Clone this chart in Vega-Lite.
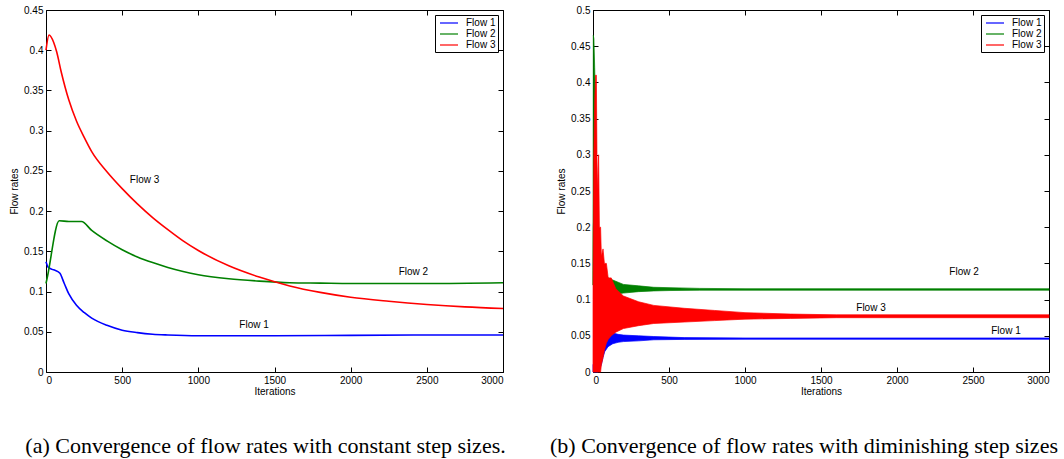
{
  "$schema": "https://vega.github.io/schema/vega-lite/v6.json",
  "padding": {"left": 9, "top": 4, "right": 5, "bottom": 5},
  "background": "white",
  "config": {
    "font": "Liberation Sans",
    "view": {"stroke": "black", "strokeWidth": 1},
    "axis": {
      "grid": false, "domain": false, "tickColor": "black", "tickSize": -5, "tickWidth": 1,
      "labelColor": "black", "labelFont": "Liberation Sans", "labelFontSize": 10, "labelPadding": 8,
      "titleColor": "black", "titleFont": "Liberation Sans", "titleFontSize": 10, "titleFontWeight": "normal"
    },
    "legend": {
      "orient": "top-right", "offset": 5, "strokeColor": "black", "fillColor": "white",
      "padding": 2, "rowPadding": 0, "labelFont": "Liberation Sans", "labelFontSize": 10, "labelOffset": 11,
      "labelColor": "black", "symbolType": "M-1.8,0H1.8", "symbolSize": 100, "symbolOffset": 6, "symbolStrokeWidth": 1.2, "title": null
    },
    "title": {"font": "Liberation Serif", "fontSize": 22, "fontWeight": "normal", "color": "black", "orient": "bottom", "anchor": "middle"}
  },
  "datasets": {
    "a": [
      {"f": "Flow 1", "x": 0, "y": 0.137}, {"f": "Flow 1", "x": 15, "y": 0.13}, {"f": "Flow 1", "x": 50, "y": 0.127}, {"f": "Flow 1", "x": 90, "y": 0.123},
      {"f": "Flow 1", "x": 120, "y": 0.11}, {"f": "Flow 1", "x": 150, "y": 0.097}, {"f": "Flow 1", "x": 200, "y": 0.083}, {"f": "Flow 1", "x": 250, "y": 0.074},
      {"f": "Flow 1", "x": 300, "y": 0.067}, {"f": "Flow 1", "x": 400, "y": 0.058}, {"f": "Flow 1", "x": 500, "y": 0.052}, {"f": "Flow 1", "x": 600, "y": 0.049},
      {"f": "Flow 1", "x": 700, "y": 0.047}, {"f": "Flow 1", "x": 800, "y": 0.046}, {"f": "Flow 1", "x": 1000, "y": 0.045}, {"f": "Flow 1", "x": 1500, "y": 0.045},
      {"f": "Flow 1", "x": 2000, "y": 0.0455}, {"f": "Flow 1", "x": 2500, "y": 0.046}, {"f": "Flow 1", "x": 3000, "y": 0.046},
      {"f": "Flow 2", "x": 0, "y": 0.11}, {"f": "Flow 2", "x": 10, "y": 0.119}, {"f": "Flow 2", "x": 87, "y": 0.188}, {"f": "Flow 2", "x": 150, "y": 0.187},
      {"f": "Flow 2", "x": 233, "y": 0.187}, {"f": "Flow 2", "x": 300, "y": 0.176}, {"f": "Flow 2", "x": 400, "y": 0.163}, {"f": "Flow 2", "x": 500, "y": 0.152},
      {"f": "Flow 2", "x": 600, "y": 0.143}, {"f": "Flow 2", "x": 700, "y": 0.136}, {"f": "Flow 2", "x": 800, "y": 0.13}, {"f": "Flow 2", "x": 900, "y": 0.125},
      {"f": "Flow 2", "x": 1000, "y": 0.121}, {"f": "Flow 2", "x": 1200, "y": 0.116}, {"f": "Flow 2", "x": 1400, "y": 0.113}, {"f": "Flow 2", "x": 1600, "y": 0.111},
      {"f": "Flow 2", "x": 1800, "y": 0.1105}, {"f": "Flow 2", "x": 2000, "y": 0.11}, {"f": "Flow 2", "x": 2500, "y": 0.11}, {"f": "Flow 2", "x": 3000, "y": 0.111},
      {"f": "Flow 3", "x": 0, "y": 0.4}, {"f": "Flow 3", "x": 20, "y": 0.419}, {"f": "Flow 3", "x": 50, "y": 0.41}, {"f": "Flow 3", "x": 70, "y": 0.398},
      {"f": "Flow 3", "x": 100, "y": 0.373}, {"f": "Flow 3", "x": 150, "y": 0.338}, {"f": "Flow 3", "x": 200, "y": 0.312}, {"f": "Flow 3", "x": 250, "y": 0.292},
      {"f": "Flow 3", "x": 300, "y": 0.274}, {"f": "Flow 3", "x": 400, "y": 0.249}, {"f": "Flow 3", "x": 500, "y": 0.228}, {"f": "Flow 3", "x": 600, "y": 0.209},
      {"f": "Flow 3", "x": 700, "y": 0.192}, {"f": "Flow 3", "x": 800, "y": 0.177}, {"f": "Flow 3", "x": 900, "y": 0.163}, {"f": "Flow 3", "x": 1000, "y": 0.151},
      {"f": "Flow 3", "x": 1200, "y": 0.132}, {"f": "Flow 3", "x": 1400, "y": 0.118}, {"f": "Flow 3", "x": 1600, "y": 0.107}, {"f": "Flow 3", "x": 1800, "y": 0.099},
      {"f": "Flow 3", "x": 2000, "y": 0.093}, {"f": "Flow 3", "x": 2250, "y": 0.088}, {"f": "Flow 3", "x": 2500, "y": 0.084}, {"f": "Flow 3", "x": 2750, "y": 0.081},
      {"f": "Flow 3", "x": 3000, "y": 0.079}
    ],
    "b": [
      {"f": "Flow 1", "x": 0, "lo": 0, "hi": 0.01}, {"f": "Flow 1", "x": 20, "lo": 0, "hi": 0.015}, {"f": "Flow 1", "x": 33, "lo": 0, "hi": 0.02},
      {"f": "Flow 1", "x": 45, "lo": 0.005, "hi": 0.035}, {"f": "Flow 1", "x": 55, "lo": 0.01, "hi": 0.045}, {"f": "Flow 1", "x": 66, "lo": 0.02, "hi": 0.05},
      {"f": "Flow 1", "x": 77, "lo": 0.028, "hi": 0.054}, {"f": "Flow 1", "x": 99, "lo": 0.035, "hi": 0.055}, {"f": "Flow 1", "x": 130, "lo": 0.039, "hi": 0.054},
      {"f": "Flow 1", "x": 165, "lo": 0.041, "hi": 0.052}, {"f": "Flow 1", "x": 200, "lo": 0.042, "hi": 0.051}, {"f": "Flow 1", "x": 300, "lo": 0.043, "hi": 0.05},
      {"f": "Flow 1", "x": 400, "lo": 0.0445, "hi": 0.049}, {"f": "Flow 1", "x": 600, "lo": 0.045, "hi": 0.0475}, {"f": "Flow 1", "x": 1000, "lo": 0.0452, "hi": 0.047},
      {"f": "Flow 1", "x": 3000, "lo": 0.0452, "hi": 0.047},
      {"f": "Flow 2", "x": 0, "lo": 0.12, "hi": 0.14}, {"f": "Flow 2", "x": 2, "lo": 0.2, "hi": 0.465}, {"f": "Flow 2", "x": 6, "lo": 0.22, "hi": 0.46},
      {"f": "Flow 2", "x": 11, "lo": 0.2, "hi": 0.42}, {"f": "Flow 2", "x": 16, "lo": 0.15, "hi": 0.38}, {"f": "Flow 2", "x": 22, "lo": 0.12, "hi": 0.3},
      {"f": "Flow 2", "x": 30, "lo": 0.1, "hi": 0.2}, {"f": "Flow 2", "x": 40, "lo": 0.095, "hi": 0.17}, {"f": "Flow 2", "x": 55, "lo": 0.1, "hi": 0.145},
      {"f": "Flow 2", "x": 77, "lo": 0.103, "hi": 0.135}, {"f": "Flow 2", "x": 100, "lo": 0.105, "hi": 0.13}, {"f": "Flow 2", "x": 130, "lo": 0.107, "hi": 0.127},
      {"f": "Flow 2", "x": 165, "lo": 0.108, "hi": 0.124}, {"f": "Flow 2", "x": 200, "lo": 0.109, "hi": 0.121}, {"f": "Flow 2", "x": 300, "lo": 0.111, "hi": 0.119},
      {"f": "Flow 2", "x": 400, "lo": 0.112, "hi": 0.117}, {"f": "Flow 2", "x": 500, "lo": 0.1125, "hi": 0.1165}, {"f": "Flow 2", "x": 700, "lo": 0.113, "hi": 0.1155},
      {"f": "Flow 2", "x": 1000, "lo": 0.113, "hi": 0.115}, {"f": "Flow 2", "x": 3000, "lo": 0.113, "hi": 0.115},
      {"f": "Flow 3", "x": 0, "lo": 0, "hi": 0.1}, {"f": "Flow 3", "x": 5, "lo": 0, "hi": 0.3}, {"f": "Flow 3", "x": 12, "lo": 0, "hi": 0.38},
      {"f": "Flow 3", "x": 17, "lo": 0, "hi": 0.41}, {"f": "Flow 3", "x": 22, "lo": 0, "hi": 0.41}, {"f": "Flow 3", "x": 26, "lo": 0, "hi": 0.3},
      {"f": "Flow 3", "x": 30, "lo": 0, "hi": 0.25}, {"f": "Flow 3", "x": 37, "lo": 0, "hi": 0.3}, {"f": "Flow 3", "x": 42, "lo": 0, "hi": 0.2},
      {"f": "Flow 3", "x": 50, "lo": 0, "hi": 0.2}, {"f": "Flow 3", "x": 55, "lo": 0.01, "hi": 0.16}, {"f": "Flow 3", "x": 66, "lo": 0.02, "hi": 0.17},
      {"f": "Flow 3", "x": 75, "lo": 0.03, "hi": 0.15}, {"f": "Flow 3", "x": 88, "lo": 0.04, "hi": 0.15}, {"f": "Flow 3", "x": 100, "lo": 0.045, "hi": 0.13},
      {"f": "Flow 3", "x": 120, "lo": 0.05, "hi": 0.13}, {"f": "Flow 3", "x": 150, "lo": 0.055, "hi": 0.115}, {"f": "Flow 3", "x": 200, "lo": 0.06, "hi": 0.105},
      {"f": "Flow 3", "x": 300, "lo": 0.064, "hi": 0.097}, {"f": "Flow 3", "x": 400, "lo": 0.067, "hi": 0.092}, {"f": "Flow 3", "x": 600, "lo": 0.069, "hi": 0.088},
      {"f": "Flow 3", "x": 800, "lo": 0.071, "hi": 0.085}, {"f": "Flow 3", "x": 1000, "lo": 0.073, "hi": 0.082}, {"f": "Flow 3", "x": 1300, "lo": 0.074, "hi": 0.08},
      {"f": "Flow 3", "x": 1600, "lo": 0.075, "hi": 0.079}, {"f": "Flow 3", "x": 3000, "lo": 0.075, "hi": 0.079}
    ],
    "la": [
      {"t": "Flow 3", "x": 647, "y": 0.239},
      {"t": "Flow 2", "x": 2412, "y": 0.124},
      {"t": "Flow 1", "x": 1366, "y": 0.058}
    ],
    "lb": [
      {"t": "Flow 2", "x": 2441, "y": 0.138},
      {"t": "Flow 3", "x": 1829, "y": 0.088},
      {"t": "Flow 1", "x": 2717, "y": 0.057}
    ]
  },
  "spacing": 42,
  "resolve": {
    "legend": {"color": "independent", "fill": "independent", "stroke": "independent"},
    "scale": {"x": "independent", "y": "independent", "color": "independent", "fill": "independent", "stroke": "independent"}
  },
  "hconcat": [
    {
      "width": 457, "height": 362,
      "title": {"text": "(a) Convergence of flow rates with constant step sizes.", "dx": -9, "offset": 40},
      "resolve": {"axis": {"x": "independent", "y": "independent"}},
      "layer": [
        {
          "data": {"name": "a"},
          "mark": {"type": "line", "strokeWidth": 1.6, "interpolate": "monotone"},
          "encoding": {
            "x": {"field": "x", "type": "quantitative", "scale": {"domain": [0, 3000], "nice": false}, "axis": {"title": "Iterations", "values": [0, 500, 1000, 1500, 2000, 2500, 3000], "format": "d", "titlePadding": 1}},
            "y": {"field": "y", "type": "quantitative", "scale": {"domain": [0, 0.45], "nice": false}, "axis": {"title": "Flow rates", "values": [0, 0.05, 0.1, 0.15, 0.2, 0.25, 0.3, 0.35, 0.4, 0.45], "format": "~g", "titlePadding": 4}},
            "color": {"field": "f", "type": "nominal", "scale": {"domain": ["Flow 1", "Flow 2", "Flow 3"], "range": ["#0000ff", "#008000", "#ff0000"]}}
          }
        },
        {
          "data": {"name": "la"},
          "mark": {"type": "text", "font": "Liberation Sans", "fontSize": 10, "color": "black"},
          "encoding": {
            "x": {"field": "x", "type": "quantitative", "axis": {"orient": "top", "labels": false, "title": null, "values": [0, 500, 1000, 1500, 2000, 2500, 3000]}},
            "y": {"field": "y", "type": "quantitative", "axis": {"orient": "right", "labels": false, "title": null, "values": [0, 0.05, 0.1, 0.15, 0.2, 0.25, 0.3, 0.35, 0.4, 0.45]}},
            "text": {"field": "t"}
          }
        }
      ]
    },
    {
      "width": 456, "height": 362,
      "title": {"text": "(b) Convergence of flow rates with diminishing step sizes", "dx": -17, "offset": 40},
      "resolve": {"axis": {"x": "independent", "y": "independent"}},
      "layer": [
        {
          "data": {"name": "b"},
          "mark": {"type": "area", "strokeWidth": 0.7, "opacity": 1},
          "encoding": {
            "x": {"field": "x", "type": "quantitative", "scale": {"domain": [0, 3000], "nice": false}, "axis": {"title": "Iterations", "values": [0, 500, 1000, 1500, 2000, 2500, 3000], "format": "d", "titlePadding": 1}},
            "y": {"field": "lo", "type": "quantitative", "scale": {"domain": [0, 0.5], "nice": false}, "axis": {"title": "Flow rates", "values": [0, 0.05, 0.1, 0.15, 0.2, 0.25, 0.3, 0.35, 0.4, 0.45, 0.5], "format": "~g", "titlePadding": 4}},
            "y2": {"field": "hi"},
            "fill": {"field": "f", "type": "nominal", "scale": {"domain": ["Flow 1", "Flow 2", "Flow 3"], "range": ["#0000ff", "#008000", "#ff0000"]}},
            "stroke": {"field": "f", "type": "nominal", "scale": {"domain": ["Flow 1", "Flow 2", "Flow 3"], "range": ["#0000ff", "#008000", "#ff0000"]}}
          }
        },
        {
          "data": {"name": "lb"},
          "mark": {"type": "text", "font": "Liberation Sans", "fontSize": 10, "color": "black"},
          "encoding": {
            "x": {"field": "x", "type": "quantitative", "axis": {"orient": "top", "labels": false, "title": null, "values": [0, 500, 1000, 1500, 2000, 2500, 3000]}},
            "y": {"field": "y", "type": "quantitative", "axis": {"orient": "right", "labels": false, "title": null, "values": [0, 0.05, 0.1, 0.15, 0.2, 0.25, 0.3, 0.35, 0.4, 0.45, 0.5]}},
            "text": {"field": "t"}
          }
        }
      ]
    }
  ]
}
